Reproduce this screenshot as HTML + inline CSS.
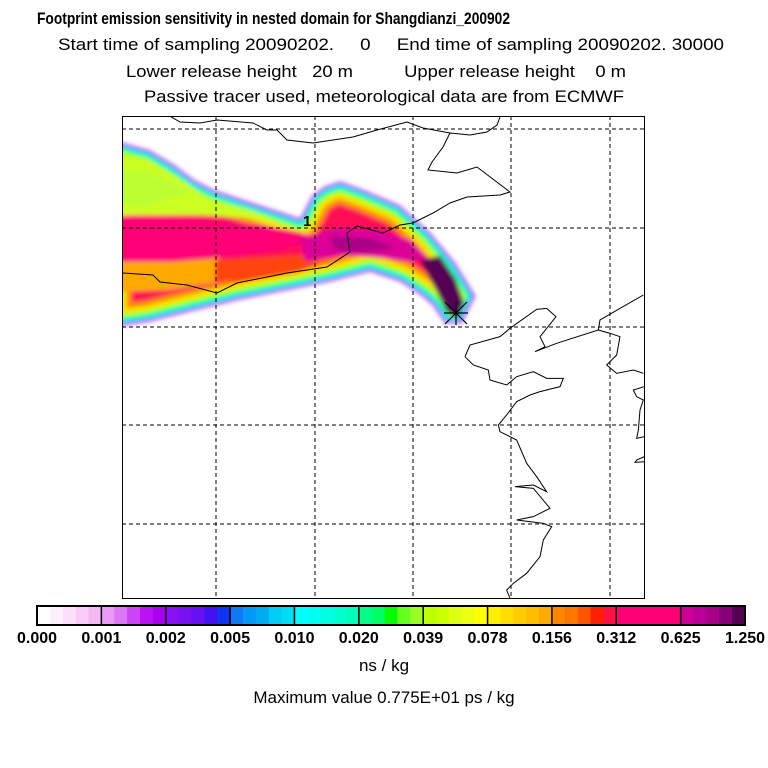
<!DOCTYPE html>
<html><head><meta charset="utf-8"><style>body{margin:0;background:#fff}svg{display:block}text{font-family:"Liberation Sans",sans-serif}</style></head>
<body>
<svg id="chart" width="768" height="768" viewBox="0 0 768 768" xmlns="http://www.w3.org/2000/svg">
<defs>
<filter id="blur" x="-10%" y="-10%" width="120%" height="120%"><feGaussianBlur stdDeviation="2"/></filter>
<filter id="blur2" x="-20%" y="-20%" width="140%" height="140%"><feGaussianBlur stdDeviation="5"/></filter>
<clipPath id="mapclip"><rect x="122" y="116" width="522" height="482"/></clipPath>
<clipPath id="envclip"><polygon id="envpoly" points=""/></clipPath>
</defs>
<g>
<text x="37" y="24" font-size="17" font-weight="bold" textLength="473" lengthAdjust="spacingAndGlyphs">Footprint emission sensitivity in nested domain for Shangdianzi_200902</text>
<text x="58" y="50" font-size="17" textLength="666" lengthAdjust="spacingAndGlyphs" xml:space="preserve">Start time of sampling 20090202.     0     End time of sampling 20090202. 30000</text>
<text x="126" y="77" font-size="17" textLength="500" lengthAdjust="spacingAndGlyphs" xml:space="preserve">Lower release height   20 m          Upper release height    0 m</text>
<text x="144" y="102" font-size="17" textLength="480" lengthAdjust="spacingAndGlyphs">Passive tracer used, meteorological data are from ECMWF</text>
</g>
<g id="map" clip-path="url(#mapclip)">
<g filter="url(#blur)">
<g id="plume" clip-path="url(#envclip)"></g>
</g>
<g id="grid"></g>
<g id="coast" fill="none" stroke="#000" stroke-width="1"></g>
</g>
<rect x="122.5" y="116.5" width="522" height="482" fill="none" stroke="#000" stroke-width="1"/>
<text x="303" y="226" font-size="15" font-weight="bold">1</text>
<g stroke="#000" stroke-width="1.2">
<line x1="444" y1="313" x2="468" y2="313"/><line x1="456" y1="301" x2="456" y2="325"/><line x1="445" y1="302" x2="467" y2="324"/><line x1="445" y1="324" x2="467" y2="302"/>
</g>
<g id="cbar"></g>
<text x="384" y="671" font-size="17" text-anchor="middle">ns / kg</text>
<text x="384" y="703" font-size="17" text-anchor="middle">Maximum value  0.775E+01 ps / kg</text>
</svg>
<script>
const levelLabels=["0.000","0.001","0.002","0.005","0.010","0.020","0.039","0.078","0.156","0.312","0.625","1.250"];
const segColors=[
["#ffffff","#fdf0fd","#fbe0fb","#f8ccf8","#f4b8f4"],
["#e99cf5","#dd77f5","#cc44f5","#bb11f5","#aa00f0"],
["#8a11f5","#7a11f5","#6611f5","#4411f5","#1133f5"],
["#1177f5","#0099f5","#00aaf5","#00ccf5","#00ddf5"],
["#00ffff","#00fff0","#00ffe0","#00ffd0","#00ffbb"],
["#00ff88","#00ff66","#00ff00","#66ff22","#99ff22"],
["#bbff00","#ccff00","#ddff11","#eeff11","#ffff00"],
["#ffee00","#ffdd00","#ffcc00","#ffbb00","#ffaa00"],
["#ff8800","#ff7700","#ff5500","#ff2200","#ff1144"],
["#ff0077","#ff0077","#ff0077","#ff0077","#ff0077"],
["#cc0099","#bb0099","#aa0088","#880077","#550055"]];
const NS="http://www.w3.org/2000/svg";
function mk(t,a,p){const e=document.createElementNS(NS,t);for(const k in a)e.setAttribute(k,a[k]);p.appendChild(e);return e;}
// colorbar
const cb=document.getElementById('cbar');
const cx0=37,cx1=745,cy=606,ch=19;
const segW=(cx1-cx0)/segColors.length;
segColors.forEach((cols,i)=>{cols.forEach((c,j)=>{
 const r=mk('rect',{x:cx0+i*segW+j*segW/5,y:cy,width:segW/5+0.6,height:ch,fill:c},cb);
 
 
});
 const b=mk('line',{x1:cx0+i*segW,y1:cy,x2:cx0+i*segW,y2:cy+ch,stroke:'#000','stroke-width':1.5},cb);
 
 
});
mk('rect',{x:cx0,y:cy,width:cx1-cx0,height:ch,fill:'none',stroke:'#000','stroke-width':2},cb);
levelLabels.forEach((l,i)=>{
 let x=cx0+i*segW;
 const t=mk('text',{x:x,y:643,'font-size':16,'font-weight':'bold','text-anchor':'middle'},cb);
 t.textContent=l;
 
 
});
// grid
const g=document.getElementById('grid');
[216,315,413,511,610].forEach(x=>{const l=mk('line',{x1:x,y1:116,x2:x,y2:598,stroke:'#000','stroke-dasharray':'4,3','stroke-width':1},g);});
[129,228,327,425,524].forEach(y=>{const l=mk('line',{x1:122,y1:y,x2:644,y2:y,stroke:'#000','stroke-dasharray':'4,3','stroke-width':1},g);});
// plume envelope
const env=[[110,140],[125,143],[150,150],[175,165],[195,180],[215,190],[260,205],[300,218],[312,195],[325,186],[340,181],[365,190],[400,205],[430,232],[455,262],[476,296],[462,324],[445,324],[432,305],[420,295],[400,282],[370,272],[330,282],[280,292],[240,300],[190,312],[150,322],[110,328]];
const envStr=env.map(p=>p.join(',')).join(' ');
document.getElementById('envpoly').setAttribute('points',envStr);
const pl=document.getElementById('plume');
const base=mk('polygon',{points:envStr,fill:'#ff1155'},pl);


const edgeBands=[[44,"#ff8800"],[34,"#ffdd00"],[26,"#bbff00"],[18,"#00ff88"],[12,"#00eeff"],[7,"#6622f5"],[3,"#ee99f8"]];
edgeBands.forEach(b=>{
 const p=mk('polygon',{points:envStr,fill:'none',stroke:b[1],'stroke-width':b[0],'stroke-linejoin':'round'},pl);
 
 
});
const patches=[
 ['M110,155 L150,160 L185,182 L210,200 L250,210 L290,225 L250,218 L200,215 L110,215 Z','#ccff22'],
 ['M110,170 L150,172 L190,192 L150,205 L110,205 Z','#bbff33'],
 ['M110,215 L200,218 L260,225 L300,232 L320,240 L280,250 L220,258 L170,262 L110,262 Z','#ff0077'],
 ['M110,262 L170,262 L220,258 L215,282 L170,290 L110,292 Z','#ffaa00'],
 ['M215,260 L300,255 L330,258 L300,272 L240,282 L215,280 Z','#ff4411'],
 ['M300,238 L340,228 L380,230 L410,240 L428,258 L410,262 L380,258 L340,255 L305,262 Z','#dd0099'],
 ['M330,236 L370,238 L395,248 L365,252 L335,250 Z','#aa0088'],
 ['M420,260 L440,256 L455,278 L464,303 L458,318 L447,312 L436,290 Z','#550055']
];
patches.forEach(p=>{
 const e=mk('path',{d:p[0],fill:p[1]},pl);
 
 
});
// coastlines
const co=document.getElementById('coast');
const P=(arr)=>{const p=mk('polyline',{points:arr.map(q=>q.join(',')).join(' ')},co);};
P([[168,115],[180,122],[200,123],[217,120],[253,123],[267,130],[277,130],[287,140],[313,143],[353,137],[377,130],[407,122],[423,128],[450,133],[470,135],[487,132],[497,125],[500,117]]);
P([[450,133],[443,147],[432,162],[428,170],[457,173],[477,167],[510,192],[500,195],[467,197],[450,203],[433,213],[413,223],[400,225],[383,233],[357,226],[347,233],[350,252],[327,267],[287,273],[237,283],[217,293],[187,285],[160,282],[153,275],[123,273]]);
const z=(a)=>a.map(q=>[q[0]/3+400,q[1]/3+110]);
P(z([[195,740],[210,705],[300,680],[330,655],[410,598],[440,595],[468,620],[420,680],[435,710],[405,725],[470,700],[595,660],[600,630],[730,555]]));
P(z([[595,660],[630,670],[660,680],[650,735],[620,765],[650,790],[700,780],[730,790]]));
P(z([[195,740],[220,765],[265,780],[270,810],[320,825],[350,800],[400,785],[440,805],[490,805],[480,830],[420,845],[390,855],[350,875],[320,915],[295,945],[300,965],[350,990],[380,1060],[410,1100],[440,1145],[400,1125],[345,1130],[400,1135],[450,1195],[400,1220],[350,1230],[430,1240],[455,1250],[430,1290],[420,1340],[380,1390],[340,1420],[320,1440],[330,1465]]));
P(z([[733,830],[700,840],[710,860],[730,870],[720,900],[715,960],[710,985],[733,980]]));
P(z([[733,1040],[710,1050],[705,1057],[733,1055]]));
</script>
</body></html>
